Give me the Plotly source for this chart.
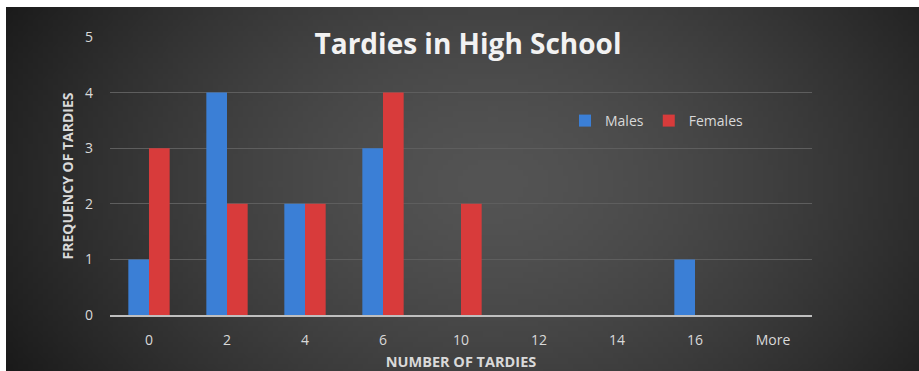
import base64, struct, zlib
import plotly.graph_objects as go

# ---------------- data ----------------
categories = ["0", "2", "4", "6", "10", "12", "14", "16", "More"]
males = [1, 4, 2, 3, 0, 0, 0, 1, 0]
females = [3, 2, 2, 4, 2, 0, 0, 0, 0]
y_ticks = [0, 1, 2, 3, 4, 5]

# ---------------- background gradient PNG ----------------
W, H = 184, 73
def shade(px, py):
    cx, cy = 0.53, 0.45
    dx = (px / (W - 1) - cx) / 0.62
    dy = (py / (H - 1) - cy) / 1.05
    d = min(1.0, (dx * dx + dy * dy) ** 0.5)
    v = 84 - 60 * d ** 1.5
    return int(max(0, min(255, v)))

raw = b""
for j in range(H):
    row = bytearray([0])
    for i in range(W):
        v = shade(i, j)
        row += bytes([v, v, v])
    raw += bytes(row)

def chunk(tag, data):
    c = struct.pack(">I", len(data)) + tag + data
    return c + struct.pack(">I", zlib.crc32(tag + data) & 0xffffffff)

png = b"\x89PNG\r\n\x1a\n" + chunk(b"IHDR", struct.pack(">IIBBBBB", W, H, 8, 2, 0, 0, 0)) \
    + chunk(b"IDAT", zlib.compress(raw, 9)) + chunk(b"IEND", b"")
bg_uri = "data:image/png;base64," + base64.b64encode(png).decode()

# ---------------- figure ----------------
FIG_W, FIG_H = 919, 371
L, R, T, B = 110, 107, 37, 56
pw, ph = FIG_W - L - R, FIG_H - T - B

fig = go.Figure()
fig.add_trace(go.Bar(
    x=categories, y=males, name="Males",
    marker=dict(color="#3b7fd6", line=dict(color="#24569c", width=0)),
))
fig.add_trace(go.Bar(
    x=categories, y=females, name="Females",
    marker=dict(color="#d83b3b", line=dict(color="#9c2424", width=0)),
))

fig.add_layout_image(dict(
    source=bg_uri, xref="paper", yref="paper",
    x=(6 - L) / pw, y=(FIG_H - B - 7) / ph,
    sizex=(925 - 6) / pw, sizey=(FIG_H + 20) / ph,
    xanchor="left", yanchor="top", sizing="stretch", layer="below",
))

# white frame strips (top and left) of the original screenshot
fig.add_shape(type="rect", xref="paper", yref="paper", layer="below",
              x0=-L / pw, x1=(FIG_W - L) / pw, y0=(FIG_H - B - 7) / ph, y1=(FIG_H - B) / ph,
              fillcolor="white", line=dict(width=0))
fig.add_shape(type="rect", xref="paper", yref="paper", layer="below",
              x0=-L / pw, x1=(6 - L) / pw, y0=-B / ph, y1=(FIG_H - B) / ph,
              fillcolor="white", line=dict(width=0))

font_family = "Open Sans, Lato, sans-serif"
fig.update_layout(
    width=FIG_W, height=FIG_H,
    margin=dict(l=L, r=R, t=T, b=B, pad=0, autoexpand=False),
    paper_bgcolor="#2c2c2c", plot_bgcolor="rgba(0,0,0,0)",
    barmode="group", bargap=0.47, bargroupgap=0.0,
    font=dict(family=font_family, color="#d9d9d9", size=14),
    title=dict(
        text="<b>Tardies in High School</b>", x=0.51, xref="paper", xanchor="center",
        y=(FIG_H - 44) / FIG_H, yanchor="middle",
        font=dict(size=28, color="#f2f2f2", family=font_family),
    ),
    legend=dict(
        orientation="h", x=(565 - L) / pw, y=(FIG_H - B - 121) / ph,
        xanchor="left", yanchor="middle", bgcolor="rgba(0,0,0,0)",
        font=dict(size=14, color="#d9d9d9"), itemsizing="constant",
    ),
    showlegend=True,
    xaxis=dict(
        type="category", categoryorder="array", categoryarray=categories,
        showgrid=False, showline=True, linecolor="#bfbfbf", linewidth=2,
        ticks="", ticklabelstandoff=11, tickfont=dict(size=14, color="#d9d9d9"),
        title=dict(text="<b>NUMBER OF TARDIES</b>", font=dict(size=14.5, color="#d9d9d9"), standoff=13),
        automargin=False, fixedrange=True,
    ),
    yaxis=dict(
        range=[0, 5], tickvals=y_ticks, showgrid=True, gridcolor="#5e5e5e", gridwidth=1,
        zeroline=False, showline=False, ticks="", ticklabelstandoff=16,
        tickfont=dict(size=14, color="#d9d9d9"),
        title=dict(text="<b>FREQUENCY OF TARDIES</b>", font=dict(size=14, color="#d9d9d9"), standoff=8),
        automargin=False, fixedrange=True,
    ),
)

fig.write_html("out.html")
